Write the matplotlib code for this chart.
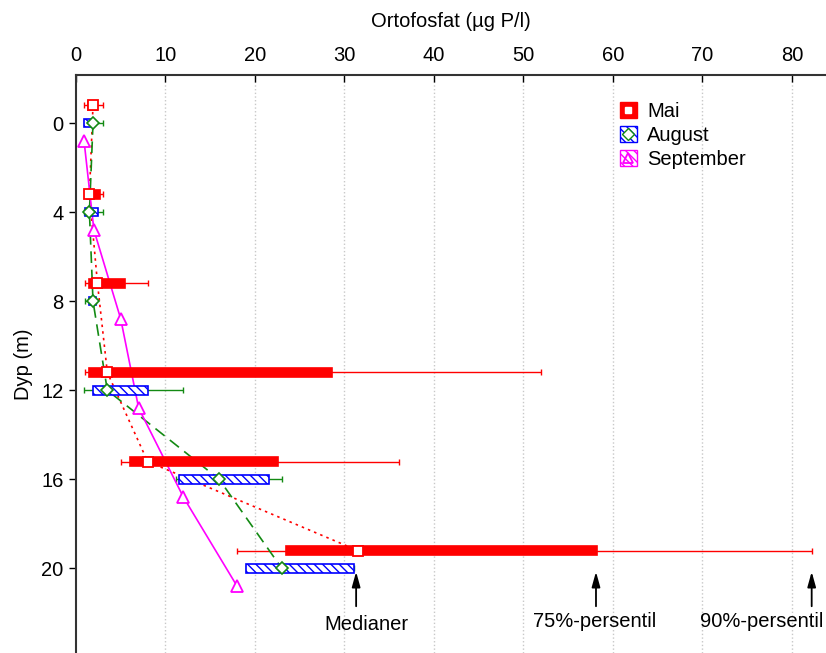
import matplotlib
matplotlib.use("Agg")
import matplotlib.pyplot as plt
from matplotlib.patches import Patch
from matplotlib.lines import Line2D
from matplotlib.legend_handler import HandlerTuple

plt.rcParams['font.family'] = ['Liberation Sans', 'DejaVu Sans']
plt.rcParams['hatch.linewidth'] = 1.0

depths = [0, 4, 8, 12, 16, 20]
x_ticks = [0, 10, 20, 30, 40, 50, 60, 70, 80]
y_ticks = [0, 4, 8, 12, 16, 20]

mai_p10 = [0.9, 1.0, 1.0, 1.0, 5.0, 18.0]
mai_p25 = [1.3, 1.2, 1.4, 1.5, 6.0, 23.5]
mai_mid = [1.9, 1.5, 2.4, 3.5, 8.0, 31.5]
mai_p75 = [2.4, 2.7, 5.5, 28.6, 22.6, 58.2]
mai_p90 = [3.0, 3.0, 8.0, 52.0, 36.1, 82.2]

aug_p10 = [0.9, 0.9, 1.0, 0.9, 11.2, 19.0]
aug_p25 = [0.9, 1.0, 1.4, 1.9, 11.5, 19.0]
aug_mid = [1.9, 1.5, 1.9, 3.5, 16.0, 23.0]
aug_p75 = [1.75, 2.5, 2.2, 8.0, 21.6, 31.1]
aug_p90 = [3.0, 3.0, 2.2, 12.0, 23.0, 31.1]

sep_val = [0.9, 2.0, 5.0, 7.0, 12.0, 18.0]

labels = ['Mai', 'August', 'September']
offset = 0.8

RED = '#ff0000'
BLUE = '#0000ff'
GREEN = '#138a13'
MAG = '#ff00ff'
FS = 14.5

fig = plt.figure(figsize=(8.26, 6.53), dpi=100)
ax = fig.add_axes([76/826, 0.0, 750/826, 578/653])

y_mai = [d - offset for d in depths]
y_aug = list(depths)
y_sep = [d + offset for d in depths]

# whiskers
ax.errorbar(mai_mid, y_mai,
            xerr=[[m - a for m, a in zip(mai_mid, mai_p10)],
                  [b - m for m, b in zip(mai_mid, mai_p90)]],
            fmt='none', ecolor=RED, elinewidth=1.0, capsize=2.2, capthick=1.0, zorder=2)
ax.errorbar(aug_mid, y_aug,
            xerr=[[max(m - a, 0) for m, a in zip(aug_mid, aug_p10)],
                  [max(b - m, 0) for m, b in zip(aug_mid, aug_p90)]],
            fmt='none', ecolor=GREEN, elinewidth=1.0, capsize=2.2, capthick=1.0, zorder=2)

# connecting lines
ax.plot(mai_mid, y_mai, color=RED, ls=(0, (1.5, 2.5)), lw=1.2, zorder=3)
ax.plot(aug_mid, y_aug, color=GREEN, ls=(0, (7, 4)), lw=1.2, zorder=3)
ax.plot(sep_val, y_sep, color=MAG, ls='-', lw=1.2, zorder=3)

# boxes
ax.barh(y_mai, [b - a for a, b in zip(mai_p25, mai_p75)], left=mai_p25, height=0.38,
        color=RED, edgecolor=RED, lw=1.2, zorder=4)
ax.barh(y_aug, [b - a for a, b in zip(aug_p25, aug_p75)], left=aug_p25, height=0.38,
        facecolor='white', edgecolor=BLUE, hatch='\\\\\\\\', lw=1.2, zorder=4)

# markers
ax.plot(mai_mid, y_mai, ls='none', marker='s', ms=7.5, mfc='white', mec=RED, mew=1.3, zorder=6)
ax.plot(aug_mid, y_aug, ls='none', marker='D', ms=6.5, mfc='white', mec=GREEN, mew=1.2, zorder=6)
ax.plot(sep_val, y_sep, ls='none', marker='^', ms=8, mfc='white', mec=MAG, mew=1.3, zorder=6)

ax.set_xlim(0, 83.8)
ax.set_ylim(23.8, -2.16)
ax.set_xticks(x_ticks)
ax.set_yticks(y_ticks)
ax.xaxis.tick_top()
ax.xaxis.set_label_position('top')
ax.tick_params(axis='x', direction='in', length=5, width=1, labelsize=FS, pad=7, colors='black')
ax.tick_params(axis='y', direction='out', length=5, width=1, labelsize=FS, pad=4)
ax.set_xlabel('Ortofosfat (µg P/l)', fontsize=FS, labelpad=14)
ax.set_ylabel('Dyp (m)', fontsize=FS, labelpad=6)
for s in ['right', 'bottom']:
    ax.spines[s].set_visible(False)
for s in ['left', 'top']:
    ax.spines[s].set_linewidth(1.5)
    ax.spines[s].set_color('#333333')
for xv in x_ticks[1:]:
    ax.axvline(xv, color='#c8c8c8', ls=':', lw=1.0, zorder=0)

# annotations
ann = [('Medianer', 31.3, 32.4, 22.5, 21.7),
       ('75%-persentil', 58.1, 58.0, 22.4, 21.7),
       ('90%-persentil', 82.2, None, 22.4, 21.7)]
for text, xa, xt, yt, ytail in ann:
    ax.annotate('', xy=(xa, 20.15), xytext=(xa, ytail),
                arrowprops=dict(arrowstyle='-|>,head_length=0.9,head_width=0.25',
                                color='black', lw=1.3, shrinkA=0, shrinkB=0), zorder=7)
    if xt is None:
        ax.text(69.7, yt, text, fontsize=FS, ha='left', va='center', clip_on=False)
    else:
        ax.text(xt, yt, text, fontsize=FS, ha='center', va='center')

h_mai = (Patch(facecolor=RED, edgecolor=RED),
         Line2D([], [], ls='none', marker='s', ms=5, mfc='white', mec='white'))
h_aug = (Patch(facecolor='white', edgecolor=BLUE, hatch='\\\\\\\\'),
         Line2D([], [], ls='none', marker='D', ms=6, mfc='white', mec=GREEN))
h_sep = (Patch(facecolor='white', edgecolor=MAG, hatch='\\\\\\\\'),
         Line2D([], [], ls='none', marker='^', ms=7, mfc='none', mec=MAG, mew=1.3))
ax.legend([h_mai, h_aug, h_sep], labels, handler_map={tuple: HandlerTuple(ndivide=1, pad=0)},
          loc='upper left', bbox_to_anchor=(0.725, 0.953), frameon=False, fontsize=FS,
          handlelength=0.85, handleheight=0.85, handletextpad=0.5, labelspacing=0.25,
          borderpad=0, borderaxespad=0)

fig.savefig('out.png', dpi=100)
